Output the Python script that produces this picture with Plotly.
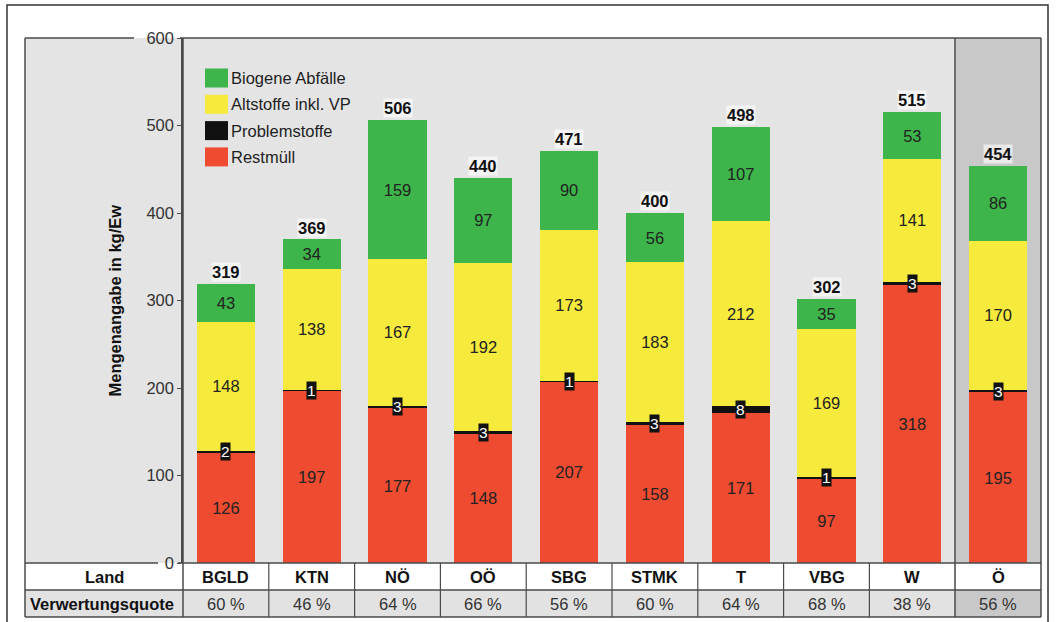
import plotly.graph_objects as go

# Waste quantities per federal state (kg per inhabitant)
laender = ["BGLD", "KTN", "NÖ", "OÖ", "SBG", "STMK", "T", "VBG", "W", "Ö"]
restmuell = [126, 197, 177, 148, 207, 158, 171, 97, 318, 195]
problemstoffe = [2, 1, 3, 3, 1, 3, 8, 1, 3, 3]
altstoffe = [148, 138, 167, 192, 173, 183, 212, 169, 141, 170]
biogen = [43, 34, 159, 97, 90, 56, 107, 35, 53, 86]
summen = [319, 369, 506, 440, 471, 400, 498, 302, 515, 454]
verwertungsquote = ["60 %", "46 %", "64 %", "66 %", "56 %", "60 %", "64 %", "68 %", "38 %", "56 %"]
y_ticks = [0, 100, 200, 300, 400, 500, 600]

serien = [
    ("Restmüll", restmuell, "#ef4b31"),
    ("Problemstoffe", problemstoffe, "#111111"),
    ("Altstoffe inkl. VP", altstoffe, "#f6eb3c"),
    ("Biogene Abfälle", biogen, "#3db54a"),
]

FONT = "Liberation Sans, Arial, sans-serif"
FS = 16.5
W, H = 1057, 622
L, R, T, B = 183, 16, 38, 59
PW, PH = W - L - R, H - T - B
YMAX = 600


def px(xp):
    return (xp - L) / PW


def py(yp):
    return (T + PH - yp) / PH


fig = go.Figure()
for name, vals, col in serien:
    show_text = name != "Problemstoffe"
    fig.add_trace(go.Bar(
        x=laender, y=vals, name=name,
        marker=dict(color=col, line=dict(width=0)),
        width=0.68,
        text=[str(v) for v in vals] if show_text else None,
        textposition="inside" if show_text else "none",
        insidetextanchor="middle",
        textangle=0,
        textfont=dict(family=FONT, size=FS, color="#222222"),
        hoverinfo="skip",
        showlegend=False,
    ))

shapes = []
annots = []
line_col = "#4a4a4a"

# grey panel left of the value axis
shapes.append(dict(type="rect", xref="paper", yref="paper", x0=px(25), x1=0, y0=0, y1=1,
                   fillcolor="#e4e4e4", line=dict(width=0), layer="below"))
# darker column for the national total
shapes.append(dict(type="rect", xref="x", yref="paper", x0=8.5, x1=9.5, y0=0, y1=1,
                   fillcolor="#c8c8c8", line=dict(width=0), layer="below"))
# table second row background
shapes.append(dict(type="rect", xref="paper", yref="paper", x0=px(25), x1=px(955),
                   y0=py(617), y1=py(590), fillcolor="#e2e2e2", line=dict(width=0), layer="below"))
shapes.append(dict(type="rect", xref="paper", yref="paper", x0=px(955), x1=px(1041),
                   y0=py(617), y1=py(590), fillcolor="#c8c8c8", line=dict(width=0), layer="below"))


def hline(x0, x1, y, w=1.5, c=line_col):
    shapes.append(dict(type="line", xref="paper", yref="paper", x0=px(x0), x1=px(x1),
                       y0=py(y), y1=py(y), line=dict(color=c, width=w), layer="above"))


def vline(x, y0, y1, w=1.5, c=line_col):
    shapes.append(dict(type="line", xref="paper", yref="paper", x0=px(x), x1=px(x),
                       y0=py(y0), y1=py(y1), line=dict(color=c, width=w), layer="above"))


# frame lines of the chart and table
hline(25, 134, 38)
hline(180, 1041, 38)
hline(25, 158, 563)
hline(178, 1041, 563)
hline(25, 1041, 590)
hline(25, 1041, 617)
vline(25, 38, 617)
vline(1041, 38, 617)
vline(183, 38, 617)
vline(955, 38, 617)
col_w = PW / len(laender)
for k in range(1, len(laender) - 1):
    vline(L + k * col_w, 563, 617, w=1.2)

# outer border
shapes.append(dict(type="rect", xref="paper", yref="paper", x0=px(7), x1=px(1048),
                   y0=py(640), y1=py(5), line=dict(color="#333333", width=1.5),
                   fillcolor="rgba(0,0,0,0)", layer="above"))

# legend
leg_items = [("Biogene Abfälle", "#3db54a"), ("Altstoffe inkl. VP", "#f6eb3c"),
             ("Problemstoffe", "#111111"), ("Restmüll", "#ef4b31")]
for i, (lab, col) in enumerate(leg_items):
    cy = 78 + i * 26.3
    shapes.append(dict(type="rect", xref="paper", yref="paper", x0=px(205), x1=px(228),
                       y0=py(cy + 9.5), y1=py(cy - 9.5), fillcolor=col,
                       line=dict(width=0), layer="above"))
    annots.append(dict(xref="paper", yref="paper", x=px(229), y=py(cy), text=lab,
                       xanchor="left", yanchor="middle", showarrow=False,
                       font=dict(family=FONT, size=FS, color="#1e1e1e")))

# hazardous waste labels on the thin black segments
for land, r, p in zip(laender, restmuell, problemstoffe):
    annots.append(dict(x=land, y=r + p / 2, xref="x", yref="y", text=str(p),
                       showarrow=False, xanchor="center", yanchor="middle",
                       bgcolor="#111111", borderpad=0,
                       font=dict(family=FONT, size=15.5, color="#ffffff")))

# totals above the stacks
for land, s in zip(laender, summen):
    annots.append(dict(x=land, y=s, xref="x", yref="y", text=f"<b>{s}</b>",
                       showarrow=False, xanchor="center", yanchor="bottom", yshift=2,
                       bgcolor="rgba(255,255,255,0.6)", borderpad=0,
                       font=dict(family=FONT, size=FS, color="#111111")))

# table rows
row1_y = py(576.5)
row2_y = py(603.5)
annots.append(dict(xref="paper", yref="paper", x=px(104), y=row1_y, text="<b>Land</b>",
                   showarrow=False, xanchor="center", yanchor="middle",
                   font=dict(family=FONT, size=FS, color="#111111")))
annots.append(dict(xref="paper", yref="paper", x=px(102), y=row2_y, text="<b>Verwertungsquote</b>",
                   showarrow=False, xanchor="center", yanchor="middle",
                   font=dict(family=FONT, size=FS, color="#111111")))
for land, q in zip(laender, verwertungsquote):
    annots.append(dict(x=land, xref="x", yref="paper", y=row1_y, text=f"<b>{land}</b>",
                       showarrow=False, xanchor="center", yanchor="middle",
                       font=dict(family=FONT, size=FS, color="#111111")))
    annots.append(dict(x=land, xref="x", yref="paper", y=row2_y, text=q,
                       showarrow=False, xanchor="center", yanchor="middle",
                       font=dict(family=FONT, size=FS, color="#333333")))

# value axis title
annots.append(dict(xref="paper", yref="paper", x=px(114), y=0.5, text="<b>Mengenangabe in kg/Ew</b>",
                   textangle=-90, showarrow=False, xanchor="center", yanchor="middle",
                   font=dict(family=FONT, size=FS, color="#111111")))

fig.update_layout(
    width=W, height=H,
    margin=dict(l=L, r=R, t=T, b=B),
    barmode="stack",
    paper_bgcolor="#ffffff",
    plot_bgcolor="#e4e4e4",
    showlegend=False,
    shapes=shapes,
    annotations=annots,
    font=dict(family=FONT),
    xaxis=dict(type="category", range=[-0.5, 9.5], showticklabels=False,
               showgrid=False, zeroline=False, showline=False, ticks=""),
    yaxis=dict(range=[0, YMAX], tickvals=y_ticks, showgrid=False, zeroline=False,
               showline=True, linecolor=line_col, linewidth=1.5,
               ticks="outside", ticklen=4, tickcolor=line_col, tickwidth=1.2,
               tickfont=dict(family=FONT, size=FS, color="#333333")),
)

fig.write_html("out.html")
